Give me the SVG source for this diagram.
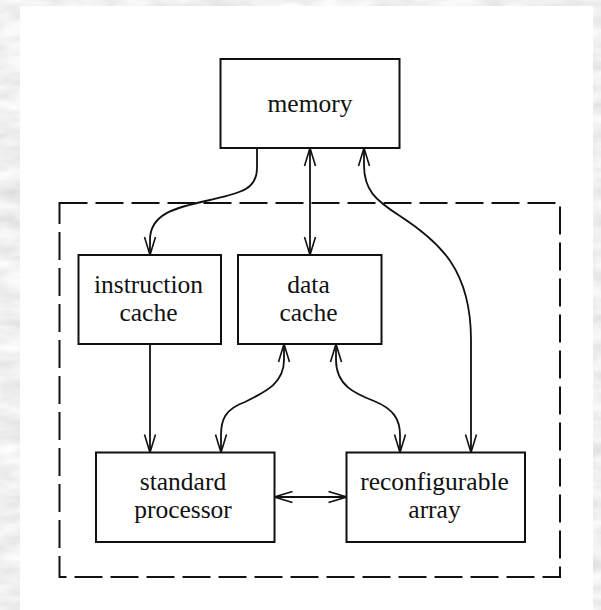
<svg xmlns="http://www.w3.org/2000/svg" width="601" height="610" viewBox="0 0 601 610">
  <style>
    .box { fill: #ffffff; stroke: #111111; stroke-width: 2; }
    .frame { fill: none; stroke: #111111; stroke-width: 2; stroke-dasharray: 28 8; }
    .wire { fill: none; stroke: #111111; stroke-width: 1.8; }
    .one { marker-end: url(#stick); }
    .two { marker-start: url(#stick); marker-end: url(#stick); }
    text { font-family: "Liberation Serif", "Times New Roman", serif; font-size: 25.5px; fill: #111111; text-anchor: middle; }
  </style>
  <defs>
    <!-- open stick arrowhead -->
    <marker id="stick" markerUnits="userSpaceOnUse" markerWidth="20" markerHeight="14" viewBox="-19 -7 20 14" refX="0" refY="0" orient="auto-start-reverse">
      <path d="M-18,-5.5 L0,0 L-18,5.5" fill="none" stroke="#111111" stroke-width="1.6"/>
    </marker>
    <!-- grey marbled paper texture -->
    <filter id="marble" x="0" y="0" width="100%" height="100%">
      <feTurbulence type="fractalNoise" baseFrequency="0.025 0.07" numOctaves="3" seed="7"/>
      <feColorMatrix type="matrix" values="0.4 0 0 0 0.67  0.4 0 0 0 0.67  0.4 0 0 0 0.67  0 0 0 0 1"/>
    </filter>
  </defs>

  <!-- page -->
  <rect x="0" y="0" width="601" height="610" fill="#e0e0e0"/>
  <rect x="0" y="0" width="601" height="610" filter="url(#marble)"/>
  <rect x="20" y="6" width="573" height="604" fill="#ffffff"/>

  <!-- chip boundary -->
  <rect class="frame" x="59.5" y="203" width="500.5" height="374"/>

  <g id="connectors">
    <!-- memory to instruction cache -->
    <path class="wire one" d="M257,148 L257,168 C257,190 240,193 210,200 C172,208 150,215 150,240 L150,255"/>
    <!-- memory to data cache -->
    <path class="wire two" d="M310,148 L310,255"/>
    <!-- memory to reconfigurable array -->
    <path class="wire two" d="M364,148 L364,165 C364,190 375,200 400,216 C440,242 471,270 471,340 L471,452.5"/>
    <!-- instruction cache to standard processor -->
    <path class="wire one" d="M150,344 L150,452.5"/>
    <!-- data cache to standard processor -->
    <path class="wire two" d="M284,344 L284,360 C284,385 262,393 245,402 C225,409 221,420 221,435 L221,452.5"/>
    <!-- data cache to reconfigurable array -->
    <path class="wire two" d="M336,344 L336,360 C336,386 356,394 374,401 C394,409 400,420 400,435 L400,452.5"/>
    <!-- standard processor to reconfigurable array -->
    <path class="wire two" d="M274.5,497 L346.5,497"/>
  </g>

  <g id="memory">
    <rect class="box" x="220.5" y="59" width="179" height="89"/>
    <text x="310" y="112">memory</text>
  </g>

  <g id="instruction-cache">
    <rect class="box" x="78.5" y="255" width="142.5" height="89"/>
    <text x="148.5" y="293">instruction</text>
    <text x="148.5" y="321">cache</text>
  </g>

  <g id="data-cache">
    <rect class="box" x="238" y="255" width="143.5" height="89"/>
    <text x="308.5" y="293">data</text>
    <text x="308.5" y="321">cache</text>
  </g>

  <g id="standard-processor">
    <rect class="box" x="96" y="452.5" width="178.5" height="89.5"/>
    <text x="183" y="490">standard</text>
    <text x="183" y="518">processor</text>
  </g>

  <g id="reconfigurable-array">
    <rect class="box" x="346.5" y="452.5" width="178.5" height="89.5"/>
    <text x="434.5" y="490">reconfigurable</text>
    <text x="434.5" y="518">array</text>
  </g>
</svg>
